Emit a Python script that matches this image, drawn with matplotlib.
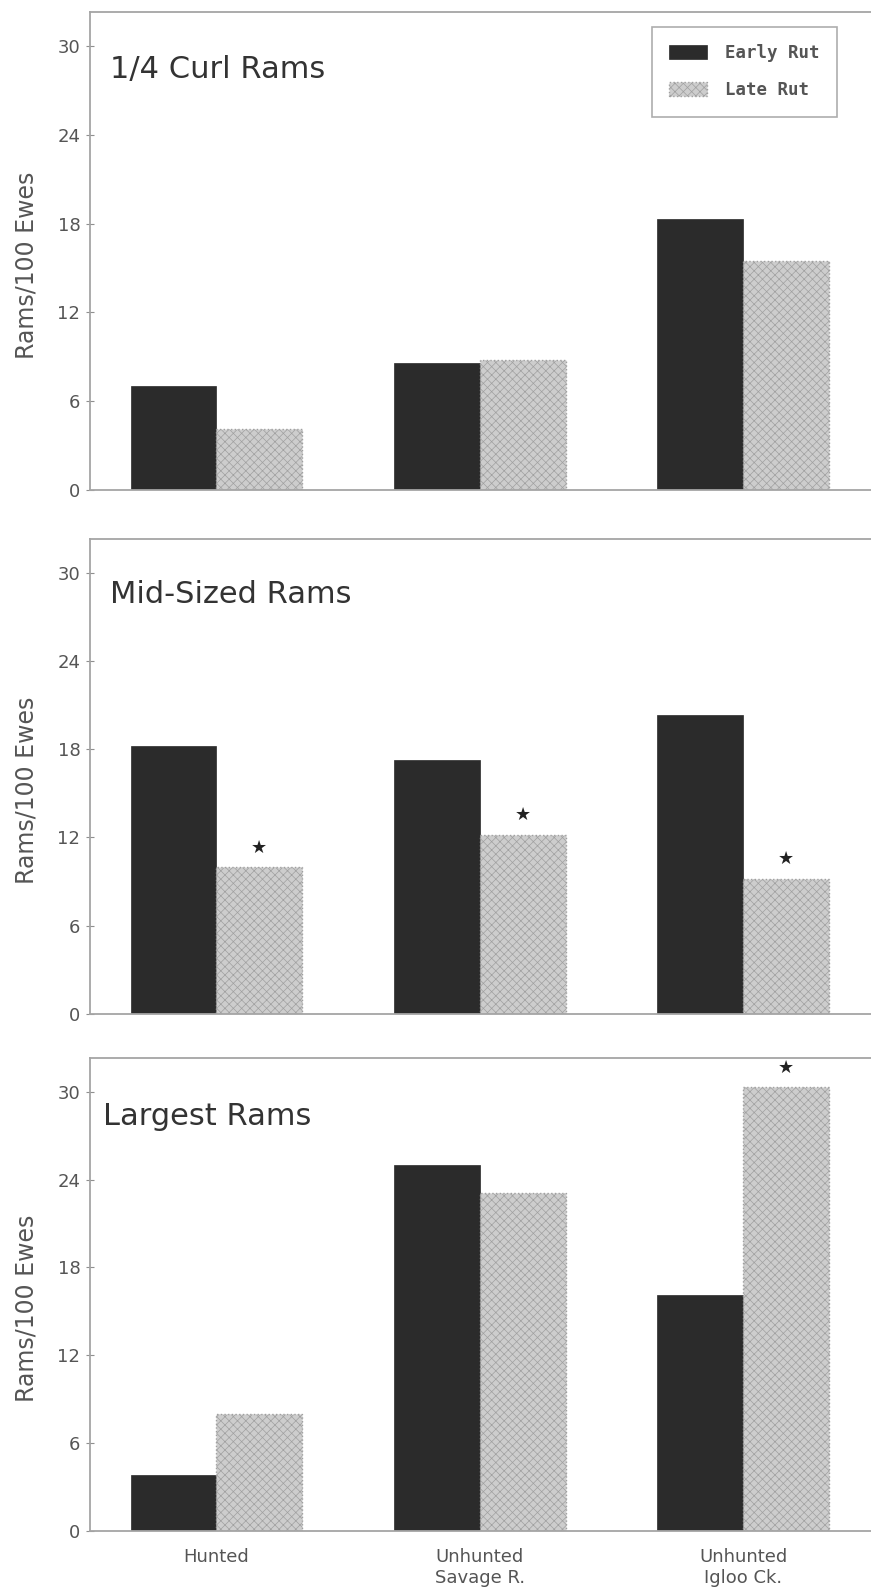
import numpy as np
import matplotlib
matplotlib.use('Agg')
from matplotlib import pyplot as plt

# categories and values (Rams per 100 Ewes)
groups = ['Hunted', 'Unhunted\nSavage R.', 'Unhunted\nIgloo Ck.']
titles = ['1/4 Curl Rams', 'Mid-Sized Rams', 'Largest Rams']

early_quarter = [7.0, 8.6, 18.3]
late_quarter = [4.1, 8.8, 15.5]
early_mid = [18.2, 17.3, 20.3]
late_mid = [10.0, 12.2, 9.2]
early_large = [3.8, 25.0, 16.1]
late_large = [8.0, 23.1, 30.3]

# significant difference marks on the late-rut bars
stars_quarter = [False, False, False]
stars_mid = [True, True, True]
stars_large = [False, False, True]

yticks = [0, 6, 12, 18, 24, 30]

plt.rcParams['hatch.linewidth'] = 0.5

fig = plt.figure(figsize=(8.71, 15.96), dpi=100)
rects = [(0.1033, 0.693, 0.901, 0.2995),
         (0.1033, 0.3647, 0.901, 0.2976),
         (0.1033, 0.0407, 0.901, 0.2964)]
title_pos = [(0.025, 0.862), (0.025, 0.865), (0.017, 0.858)]
panels = [(early_quarter, late_quarter, stars_quarter),
          (early_mid, late_mid, stars_mid),
          (early_large, late_large, stars_large)]

x = np.arange(len(groups))
w = 0.326
dark = '#2b2b2b'
light = '#cdcdcd'
grey = '#8f8f8f'

for i, (rect, (early, late, stars)) in enumerate(zip(rects, panels)):
    ax = fig.add_axes(rect)
    ax.bar(x - w / 2, early, w, color=dark, edgecolor=dark, linewidth=0.5,
           label='Early Rut')
    ax.bar(x + w / 2, late, w, facecolor=light, edgecolor='#a0a0a0',
           hatch='xxxx', linewidth=1.0, linestyle=':', label='Late Rut')
    for xi, v, s in zip(x, late, stars):
        if s:
            ax.annotate('★', (xi + w / 2, v), xytext=(0, 14),
                        textcoords='offset points', ha='center', va='center',
                        fontsize=13, color='#222222')

    ax.set_xlim(-0.48, 2.5)
    ax.set_ylim(0, 32.3)
    ax.set_yticks(yticks)
    ax.tick_params(axis='y', direction='inout', length=6, width=0.8,
                   color=grey, labelsize=13, labelcolor='#555555', pad=4)
    ax.set_xticks(x)
    if i == 2:
        ax.set_xticklabels(groups, fontsize=13, color='#555555', va='top')
        ax.tick_params(axis='x', length=0, pad=12)
    else:
        ax.set_xticklabels([])
        ax.tick_params(axis='x', length=0)

    for side in ['left', 'bottom', 'top']:
        ax.spines[side].set_color('#a5a5a5')
        ax.spines[side].set_linewidth(1.3)
    ax.spines['right'].set_visible(False)

    ax.set_ylabel('Rams/100 Ewes', fontsize=17, color='#555555')
    ax.yaxis.set_label_coords(-0.066, 0.47)

    ax.text(title_pos[i][0], title_pos[i][1], titles[i], transform=ax.transAxes,
            fontsize=22, color='#333333', ha='left', va='baseline')

    if i == 0:
        leg = ax.legend(loc='upper left', bbox_to_anchor=(0.716, 0.969),
                        borderaxespad=0, fancybox=False, frameon=True,
                        prop={'family': 'DejaVu Sans Mono', 'size': 12.5,
                              'weight': 'bold'},
                        handlelength=2.2, handleheight=0.9, labelspacing=1.1,
                        handletextpad=1.0, borderpad=1.0)
        leg.get_frame().set_edgecolor('#999999')
        leg.get_frame().set_linewidth(1.2)
        for t in leg.get_texts():
            t.set_color('#555555')

fig.savefig('out.png', dpi=100)
